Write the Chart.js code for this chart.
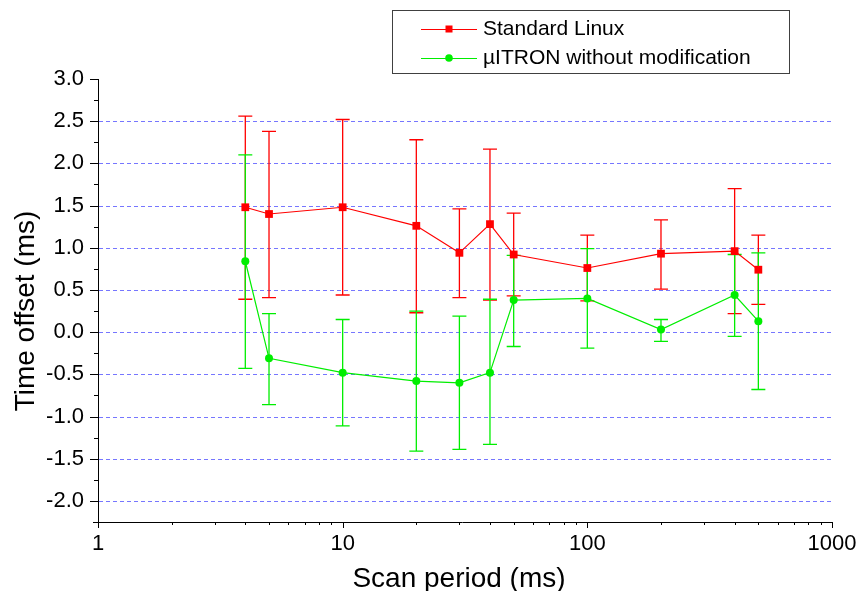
<!DOCTYPE html>
<html>
<head>
<meta charset="utf-8">
<title>Time offset vs scan period</title>
<script src="https://cdn.jsdelivr.net/npm/chart.js@4/dist/chart.umd.min.js"></script>
<style>
  html, body { margin: 0; padding: 0; background: #fff; }
  #chart { display: block; }
</style>
</head>
<body>
<canvas id="chart" width="861" height="591"></canvas>
<script>
"use strict";

// scan periods (ms), x axis
const periods = [4, 5, 10, 20, 30, 40, 50, 100, 200, 400, 500];

// Standard Linux: mean and error bar ends
const linuxMean = [1.48, 1.40, 1.48, 1.26, 0.94, 1.28, 0.92, 0.76, 0.93, 0.96, 0.74];
const linuxHigh = [2.56, 2.38, 2.52, 2.28, 1.46, 2.17, 1.41, 1.15, 1.33, 1.70, 1.15];
const linuxLow  = [0.39, 0.41, 0.44, 0.23, 0.41, 0.38, 0.43, 0.37, 0.51, 0.22, 0.33];

// µITRON without modification
const itronMean = [0.84, -0.31, -0.48, -0.58, -0.60, -0.48, 0.38, 0.40, 0.03, 0.44, 0.13];
const itronHigh = [2.10, 0.22, 0.15, 0.25, 0.19, 0.39, 0.91, 0.99, 0.15, 0.92, 0.94];
const itronLow  = [-0.43, -0.86, -1.11, -1.41, -1.39, -1.33, -0.17, -0.19, -0.11, -0.05, -0.68];

// axis ticks
const xMajor = [1, 10, 100, 1000];
const yMajor = [-2.0, -1.5, -1.0, -0.5, 0.0, 0.5, 1.0, 1.5, 2.0, 2.5, 3.0];
const yGrid = [-2.0, -1.5, -1.0, -0.5, 0.0, 0.5, 1.0, 1.5, 2.0, 2.5];

const FONT = "'Liberation Sans', Arial, Helvetica, sans-serif";

/**
 * Stödlinjer och felstaplar ritas före linjerna, via skalornas pixelfunktioner.
 */
const errorBars = {
    id: "errorBars",
    beforeDatasetsDraw(chart) {
        const ctx = chart.ctx;
        const xs = chart.scales.x;
        const ys = chart.scales.y;
        const area = chart.chartArea;

        // dashed blue grid lines
        ctx.save();
        ctx.strokeStyle = "rgba(60, 60, 255, 0.7)";
        ctx.lineWidth = 1;
        ctx.setLineDash([4, 3]);
        ctx.beginPath();
        yGrid.forEach((v) => {
            const y = Math.round(ys.getPixelForValue(v)) + 0.5;
            ctx.moveTo(area.left + 1, y);
            ctx.lineTo(area.right, y);
        });
        ctx.stroke();
        ctx.restore();

        chart.data.datasets.forEach((ds) => {
            ctx.save();
            ctx.strokeStyle = ds.borderColor;
            ctx.lineWidth = 1.3;
            ds.data.forEach((pt, i) => {
                const x = xs.getPixelForValue(pt.x);
                const top = ys.getPixelForValue(ds.errHigh[i]);
                const bot = ys.getPixelForValue(ds.errLow[i]);
                ctx.beginPath();
                ctx.moveTo(x, top);
                ctx.lineTo(x, bot);
                ctx.moveTo(x - 7, top);
                ctx.lineTo(x + 7, top);
                ctx.moveTo(x - 7, bot);
                ctx.lineTo(x + 7, bot);
                ctx.stroke();
            });
            ctx.restore();
        });
    }
};

/**
 * Axlar, tickmarkeringar (stora och små), axeltitlar och legend.
 */
const decorations = {
    id: "decorations",
    afterDraw(chart) {
        const ctx = chart.ctx;
        const xs = chart.scales.x;
        const ys = chart.scales.y;
        const area = chart.chartArea;

        ctx.save();
        ctx.strokeStyle = "#000";
        ctx.lineWidth = 1;

        // axis lines
        ctx.beginPath();
        ctx.moveTo(Math.round(area.left) + 0.5, area.top);
        ctx.lineTo(Math.round(area.left) + 0.5, area.bottom);
        ctx.moveTo(area.left - 5, Math.round(area.bottom) + 0.5);
        ctx.lineTo(area.right, Math.round(area.bottom) + 0.5);

        // y ticks every 0.25, major every 0.5
        for (let v = ys.min; v <= ys.max + 1e-9; v += 0.25) {
            const y = Math.round(ys.getPixelForValue(v)) + 0.5;
            const major = Math.abs(v * 2 - Math.round(v * 2)) < 1e-6;
            ctx.moveTo(area.left, y);
            ctx.lineTo(area.left - (major ? 8 : 4), y);
        }

        // x ticks, decades and 2..9
        for (let d = 1; d <= 1000; d *= 10) {
            for (let m = 1; m <= 9; m++) {
                const v = d * m;
                if (v > xs.max) break;
                const x = Math.round(xs.getPixelForValue(v)) + 0.5;
                ctx.moveTo(x, area.bottom);
                ctx.lineTo(x, area.bottom + (m === 1 ? 6 : 3));
            }
        }
        ctx.stroke();

        // axis titles
        ctx.fillStyle = "#000";
        ctx.font = "28px " + FONT;
        ctx.textAlign = "center";
        ctx.textBaseline = "alphabetic";
        ctx.fillText("Scan period (ms)", 459, 587);

        ctx.save();
        ctx.translate(34, 311);
        ctx.rotate(-Math.PI / 2);
        ctx.fillText("Time offset (ms)", 0, 0);
        ctx.restore();

        // legend
        ctx.strokeStyle = "#404040";
        ctx.strokeRect(392.5, 10.5, 397, 63);
        ctx.font = "21px " + FONT;
        ctx.textAlign = "left";
        ctx.textBaseline = "middle";
        const rows = [29, 58];
        chart.data.datasets.forEach((ds, i) => {
            const y = rows[i];
            ctx.strokeStyle = ds.borderColor;
            ctx.fillStyle = ds.borderColor;
            ctx.lineWidth = 1;
            ctx.beginPath();
            ctx.moveTo(421, y + 0.5);
            ctx.lineTo(477, y + 0.5);
            ctx.stroke();
            ctx.beginPath();
            if (ds.pointStyle === "rect") {
                ctx.rect(445.5, y - 3.5, 7, 7);
            } else {
                ctx.arc(449, y, 3.8, 0, Math.PI * 2);
            }
            ctx.fill();
            ctx.fillStyle = "#000";
            ctx.fillText(ds.label, 483, y);
        });

        ctx.restore();
    }
};

const toPoints = (ys) => ys.map((v, i) => ({ x: periods[i], y: v }));

new Chart(document.getElementById("chart"), {
    type: "line",
    data: {
        datasets: [
            {
                label: "Standard Linux",
                data: toPoints(linuxMean),
                errHigh: linuxHigh,
                errLow: linuxLow,
                borderColor: "#ff0000",
                backgroundColor: "#ff0000",
                borderWidth: 1.2,
                pointStyle: "rect",
                pointRadius: 5.5,
                pointBorderWidth: 0,
                tension: 0
            },
            {
                label: "µITRON without modification",
                data: toPoints(itronMean),
                errHigh: itronHigh,
                errLow: itronLow,
                borderColor: "#00ee00",
                backgroundColor: "#00ee00",
                borderWidth: 1.2,
                pointStyle: "circle",
                pointRadius: 4,
                pointBorderWidth: 0,
                tension: 0
            }
        ]
    },
    options: {
        responsive: false,
        animation: false,
        devicePixelRatio: 1,
        layout: {
            padding: { left: 0, top: 79, right: 29, bottom: 0 }
        },
        plugins: {
            legend: { display: false },
            tooltip: { enabled: false }
        },
        scales: {
            x: {
                type: "logarithmic",
                min: 1,
                max: 1000,
                afterFit: (scale) => {
                    scale.height = 69;
                    scale.paddingLeft = 0;
                    scale.paddingRight = 0;
                },
                afterBuildTicks: (scale) => {
                    scale.ticks = xMajor.map((v) => ({ value: v }));
                },
                grid: { display: false, drawTicks: false },
                border: { display: false },
                ticks: {
                    color: "#000",
                    font: { family: FONT, size: 22 },
                    padding: 9,
                    maxRotation: 0,
                    autoSkip: false,
                    callback: (v) => String(v)
                }
            },
            y: {
                type: "linear",
                min: -2.25,
                max: 3.0,
                afterFit: (scale) => {
                    scale.width = 98;
                    scale.paddingTop = 0;
                    scale.paddingBottom = 0;
                },
                afterBuildTicks: (scale) => {
                    scale.ticks = yMajor.map((v) => ({ value: v }));
                },
                grid: { display: false, drawTicks: false },
                border: { display: false },
                ticks: {
                    color: "#000",
                    font: { family: FONT, size: 22 },
                    padding: 14,
                    autoSkip: false,
                    callback: (v) => Number(v).toFixed(1)
                }
            }
        }
    },
    plugins: [errorBars, decorations]
});
</script>
</body>
</html>
